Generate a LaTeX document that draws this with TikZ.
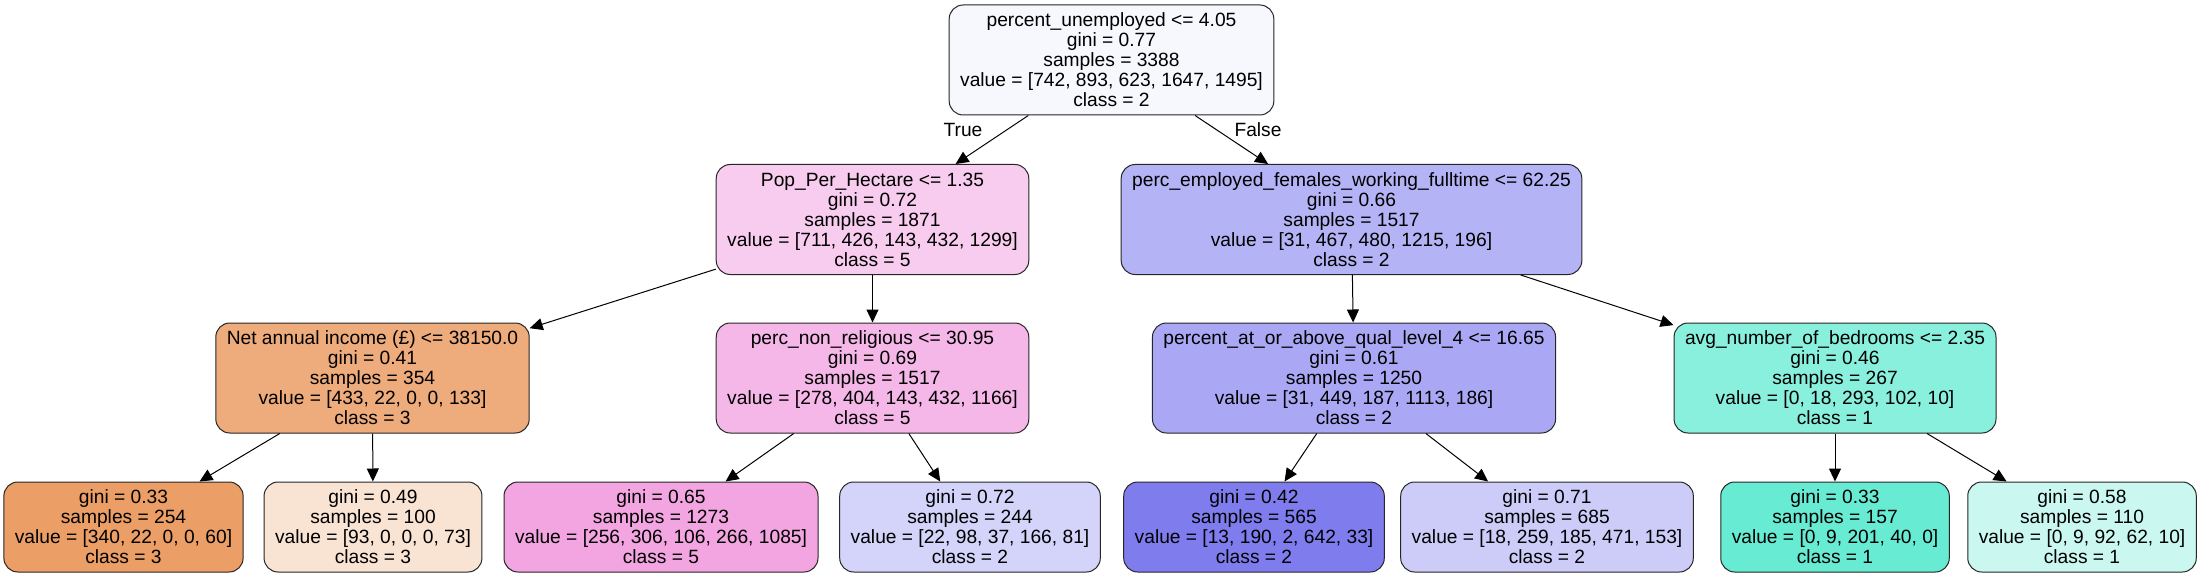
\documentclass[tikz,border=0pt]{standalone}
\usepackage{fontspec}
\setmainfont{Liberation Sans}
\usepackage{tikz}
\usetikzlibrary{arrows.meta}

% class colours, faded by purity
\definecolor{rootfill}{HTML}{F7F7FE}
\definecolor{popfill}{HTML}{F8CCEF}
\definecolor{empfill}{HTML}{B4B3F5}
\definecolor{netfill}{HTML}{EEAC7C}
\definecolor{relfill}{HTML}{F5B6E8}
\definecolor{qualfill}{HTML}{AAA8F4}
\definecolor{bedfill}{HTML}{89F0DD}
\definecolor{leafa}{HTML}{EB9E66}
\definecolor{leafb}{HTML}{F9E4D4}
\definecolor{leafc}{HTML}{F3A5E2}
\definecolor{leafd}{HTML}{D4D3F9}
\definecolor{leafe}{HTML}{7F7DEE}
\definecolor{leaff}{HTML}{CDCCF8}
\definecolor{leafg}{HTML}{67EBD3}
\definecolor{leafh}{HTML}{CAF8F0}

\tikzset{
    treenode/.style={draw=black!85, line width=0.5pt, rounded corners=7pt, align=center,
        inner xsep=5.5pt, inner ysep=0pt, font=\fontsize{9.6}{10}\selectfont},
    split/.style={treenode, minimum height=55pt},
    leaf/.style={treenode, minimum height=45pt},
    edge/.style={-{Triangle[length=6.5pt,width=6pt]}, line width=0.5pt},
    branch/.style={font=\fontsize{9.6}{10}\selectfont, inner sep=0pt}
}

\begin{document}
\begin{tikzpicture}[x=0.5pt,y=-0.5pt]
    % Canvas
    \fill[white] (0,0) rectangle (2203,577);
    \useasboundingbox (0,0) rectangle (2203,577);

    % Root
    \node[split, fill=rootfill] (root) at (1111.5,60) {percent\_unemployed <= 4.05\\gini = 0.77\\samples = 3388\\value = [742, 893, 623, 1647, 1495]\\class = 2};

    % Depth 1
    \node[split, fill=popfill] (pop) at (872.5,219.5) {Pop\_Per\_Hectare <= 1.35\\gini = 0.72\\samples = 1871\\value = [711, 426, 143, 432, 1299]\\class = 5};
    \node[split, fill=empfill] (emp) at (1351.5,219.5) {perc\_employed\_females\_working\_fulltime <= 62.25\\gini = 0.66\\samples = 1517\\value = [31, 467, 480, 1215, 196]\\class = 2};

    % Depth 2
    \node[split, fill=netfill] (net) at (372.5,378) {Net annual income (£) <= 38150.0\\gini = 0.41\\samples = 354\\value = [433, 22, 0, 0, 133]\\class = 3};
    \node[split, fill=relfill] (nonrel) at (872.5,378) {perc\_non\_religious <= 30.95\\gini = 0.69\\samples = 1517\\value = [278, 404, 143, 432, 1166]\\class = 5};
    \node[split, fill=qualfill] (qual) at (1354,378) {percent\_at\_or\_above\_qual\_level\_4 <= 16.65\\gini = 0.61\\samples = 1250\\value = [31, 449, 187, 1113, 186]\\class = 2};
    \node[split, fill=bedfill] (bed) at (1835,378) {avg\_number\_of\_bedrooms <= 2.35\\gini = 0.46\\samples = 267\\value = [0, 18, 293, 102, 10]\\class = 1};

    % Leaves
    \node[leaf, fill=leafa] (l1) at (123.5,527) {gini = 0.33\\samples = 254\\value = [340, 22, 0, 0, 60]\\class = 3};
    \node[leaf, fill=leafb] (l2) at (373,527) {gini = 0.49\\samples = 100\\value = [93, 0, 0, 0, 73]\\class = 3};
    \node[leaf, fill=leafc] (l3) at (661,527) {gini = 0.65\\samples = 1273\\value = [256, 306, 106, 266, 1085]\\class = 5};
    \node[leaf, fill=leafd] (l4) at (970,527) {gini = 0.72\\samples = 244\\value = [22, 98, 37, 166, 81]\\class = 2};
    \node[leaf, fill=leafe] (l5) at (1254,527) {gini = 0.42\\samples = 565\\value = [13, 190, 2, 642, 33]\\class = 2};
    \node[leaf, fill=leaff] (l6) at (1547,527) {gini = 0.71\\samples = 685\\value = [18, 259, 185, 471, 153]\\class = 2};
    \node[leaf, fill=leafg] (l7) at (1835,527) {gini = 0.33\\samples = 157\\value = [0, 9, 201, 40, 0]\\class = 1};
    \node[leaf, fill=leafh] (l8) at (2082,527) {gini = 0.58\\samples = 110\\value = [0, 9, 92, 62, 10]\\class = 1};

    % Edges
    \foreach \a/\b in {root/pop, root/emp, pop/net, pop/nonrel, emp/qual, emp/bed,
        net/l1, net/l2, nonrel/l3, nonrel/l4, qual/l5, qual/l6, bed/l7, bed/l8} {
        \draw[edge] (\a) -- (\b);
    }

    % Branch labels
    \node[branch] (true) at (963,130) {True};
    \node[branch] (false) at (1258,130) {False};
\end{tikzpicture}
\end{document}
